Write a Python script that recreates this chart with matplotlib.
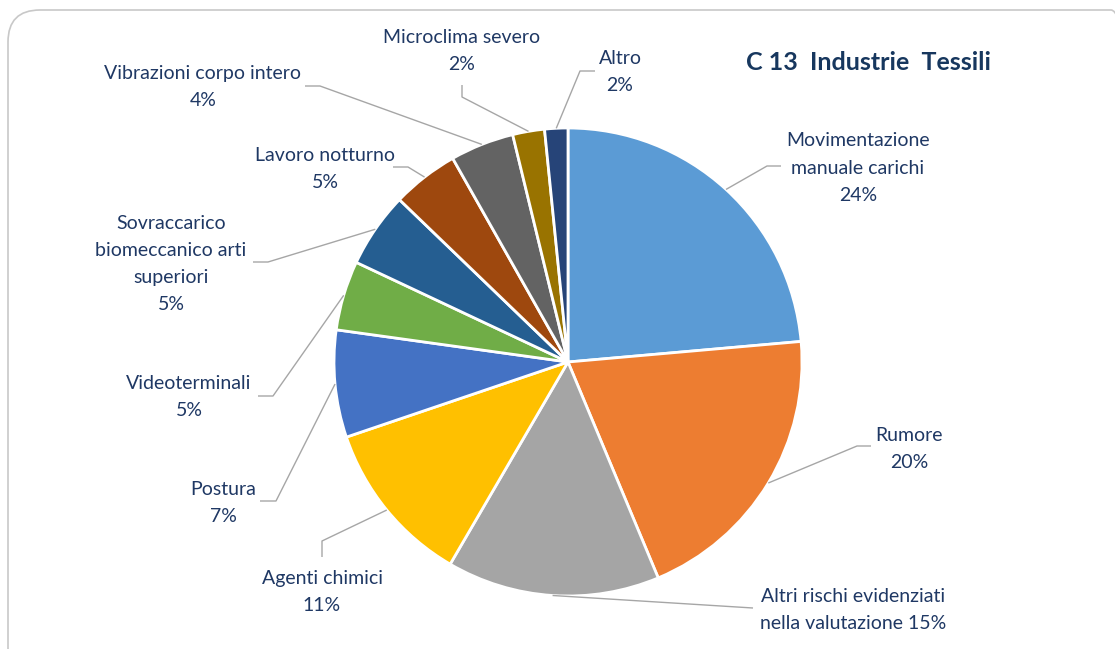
import numpy as np
import matplotlib
matplotlib.use("Agg")
import matplotlib.pyplot as plt
from matplotlib.patches import FancyBboxPatch

# ---- data ----
categories = ["Movimentazione\nmanuale carichi", "Rumore",
              "Altri rischi evidenziati\nnella valutazione", "Agenti chimici",
              "Postura", "Videoterminali",
              "Sovraccarico\nbiomeccanico arti\nsuperiori", "Lavoro notturno",
              "Vibrazioni corpo intero", "Microclima severo", "Altro"]
values = [23.6, 20.1, 14.7, 11.4, 7.4, 4.8, 5.2, 4.6, 4.4, 2.2, 1.6]
colors = ["#5B9BD5", "#ED7D31", "#A5A5A5", "#FFC000", "#4472C4", "#70AD47",
          "#255E91", "#9E480E", "#636363", "#997300", "#264478"]
title = "C 13  Industrie  Tessili"

W, H = 1115, 649
fig = plt.figure(figsize=(W / 100, H / 100), dpi=100)
ax = fig.add_axes([0, 0, 1, 1])

def py(y):
    return H - y

cx, cy, R = 568, 362, 234
wedges, _ = ax.pie(values, colors=colors, startangle=90, counterclock=False,
                   center=(cx, py(cy)), radius=R,
                   wedgeprops=dict(edgecolor="white", linewidth=2))

ax.set_xlim(0, W)
ax.set_ylim(0, H)
ax.set_aspect("equal")
ax.axis("off")

# frame
frame = FancyBboxPatch((8, py(680)), 1135, 670, boxstyle="round,pad=0,rounding_size=32",
                       facecolor="none", edgecolor="#C8C8C8", linewidth=1.2,
                       transform=ax.transData, clip_on=False)
ax.add_patch(frame)

# label layout (pixel coordinates): text centre, leader points after start
layout = [
    ((858, 168), [(767, 166), (781, 166)]),
    ((909, 449), [(857, 446), (871, 446)]),
    ((853, 610), [(753, 608)]),
    ((322, 592), [(322, 541), (322, 557)]),
    ((223, 503), [(276, 501), (260, 501)]),
    ((189, 397), [(273, 396), (258, 396)]),
    ((171, 264), [(268, 262), (253, 262)]),
    ((325, 169), [(408, 167), (393, 167)]),
    ((203, 87), [(320, 86), (305, 86)]),
    ((462, 51), [(462, 97), (462, 85)]),
    ((620, 72), [(580, 71), (595, 71)]),
]

txt_color = "#1F3864"
total = sum(values)
for i, (w, cat, val) in enumerate(zip(wedges, categories, values)):
    pct = round(val / total * 100)
    if i == 2:
        label = cat + " %d%%" % pct
    else:
        label = cat + "\n%d%%" % pct
    mid = np.deg2rad((w.theta1 + w.theta2) / 2)
    sx = cx + R * np.cos(mid)
    sy = py(cy) + R * np.sin(mid)
    (tx, ty), pts = layout[i]
    xs = [sx] + [p[0] for p in pts]
    ys = [sy] + [py(p[1]) for p in pts]
    ax.plot(xs, ys, color="#A6A6A6", lw=1, solid_capstyle="butt")
    ax.text(tx, py(ty), label, ha="center", va="center", fontsize=14,
            family="Lato", color=txt_color, linespacing=1.72)

ax.text(868, py(62), title, ha="center", va="center", fontsize=18,
        family="Lato", fontweight="bold", color="#17375E")

fig.savefig("out.png", dpi=100)
